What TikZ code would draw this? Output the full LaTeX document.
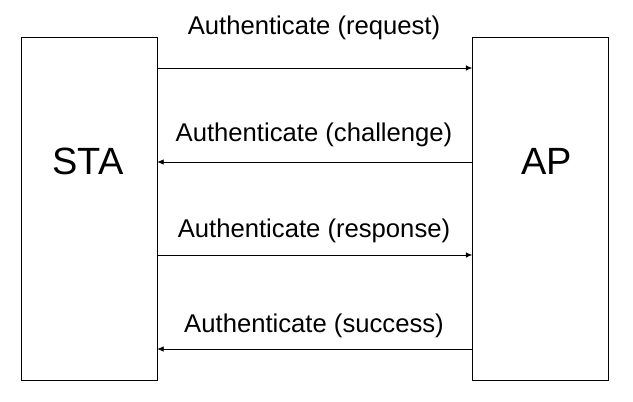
\documentclass[tikz,border=0pt]{standalone}
\usepackage{fontspec}
\setmainfont{Liberation Sans}
\usetikzlibrary{arrows.meta}

\begin{document}
\begin{tikzpicture}[x = 0.05cm, y = -0.05cm,
    box/.style = {draw, line width = 1pt, minimum width = 6.8cm, minimum height = 17.15cm, inner sep = 0pt},
    msg/.style = {line width = 1pt, -{Latex[length = 9pt, width = 8pt]}},
    msglabel/.style = {anchor = base, inner sep = 0pt, font = \fontsize{36.5pt}{40pt}\selectfont},
    boxlabel/.style = {inner sep = 0pt, font = \fontsize{54pt}{60pt}\selectfont}]
    \useasboundingbox (0, 0) rectangle (633, 402);

    \node[box] (sta) at (89, 208.5) {};
    \node[box] (ap) at (540.5, 208.5) {};
    \node[boxlabel] (stalabel) at ([xshift = -0.05cm]sta.center |- 0, 161) {STA};
    \node[boxlabel] (aplabel) at ([xshift = 0.3cm]ap.center |- 0, 161) {AP};

    \foreach \y/\ly/\a/\b/\txt in {68/35/sta.east/ap.west/request, 162/142/ap.west/sta.east/challenge, 255/237/sta.east/ap.west/response, 349/332/ap.west/sta.east/success}{
        \draw[msg] (\a |- 0, \y) -- (\b |- 0, \y);
        \node[msglabel] (label\y) at (314, \ly) {Authenticate (\txt)};
    }
\end{tikzpicture}
\end{document}
